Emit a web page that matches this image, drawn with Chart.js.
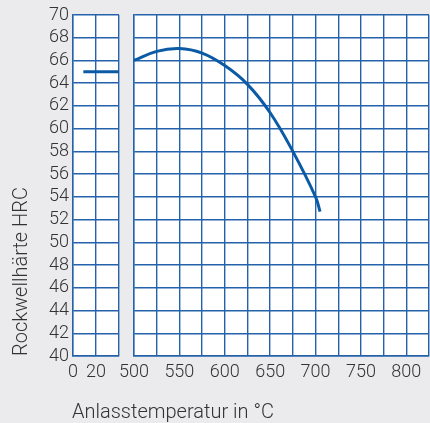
<!DOCTYPE html>
<html>
<head>
<meta charset="utf-8">
<script src="https://cdn.jsdelivr.net/npm/chart.js@4"></script>
<style>
  body { margin: 0; background: #ebebed; }
  #wrap { position: relative; width: 430px; height: 423px; overflow: hidden; }
  #left { position: absolute; left: 0; top: 0; }
  #right { position: absolute; left: 113px; top: 0; }
  #xtitle { position: absolute; left: 72px; top: 399px; font-family: Roboto, 'Liberation Sans', sans-serif; font-weight: 300; font-size: 20px; color: #333333; white-space: nowrap; }
</style>
</head>
<body>
<div id="wrap">
  <canvas id="left" width="125" height="423"></canvas>
  <canvas id="right" width="322" height="423"></canvas>
  <div id="xtitle">Anlasstemperatur in °C</div>
</div>
<script>
// hardness after quenching (room temperature section)
let roomTemp = [9, 40];
let roomHrc = [65, 65];

// tempering curve
let temperTemp = [500, 525, 550, 575, 600, 625, 650, 675, 700, 705];
let temperHrc = [66, 66.8, 67.05, 66.65, 65.55, 63.9, 61.4, 58, 54, 52.7];

let yTitle = 'Rockwellhärte HRC';
let roomTicks = [0, 20];
let temperTicks = [500, 550, 600, 650, 700, 750, 800];

let gridBlue = '#2462ab';
let curveBlue = '#0b5aa5';
let textGrey = '#333333';
let tickFont = { family: "Roboto, 'Liberation Sans', sans-serif", size: 18, weight: 300 };
let titleFont = { family: "Roboto, 'Liberation Sans', sans-serif", size: 20, weight: 300 };

// white plotting field
let whiteArea = {
    id: 'whiteArea',
    beforeDraw(chart) {
        let a = chart.chartArea;
        let ctx = chart.ctx;
        ctx.save();
        ctx.fillStyle = '#ffffff';
        ctx.fillRect(a.left, a.top, a.right - a.left, a.bottom - a.top);
        ctx.restore();
    }
};

function gridOpts() {
    return { color: gridBlue, lineWidth: 1.4, drawTicks: false };
}

let yCommon = {
    type: 'linear', min: 40, max: 70,
    grid: gridOpts(),
    border: { color: gridBlue, width: 1.4 }
};

new Chart(document.getElementById('left'), {
    type: 'line',
    data: {
        datasets: [{
            data: roomTemp.map((t, i) => ({ x: t, y: roomHrc[i] })),
            borderColor: curveBlue, borderWidth: 3, pointRadius: 0
        }]
    },
    options: {
        responsive: false, animation: false,
        layout: { padding: { top: 15, right: 6, left: 0, bottom: 0 } },
        plugins: { legend: { display: false }, tooltip: { enabled: false } },
        scales: {
            x: {
                type: 'linear', min: 0, max: 40,
                grid: gridOpts(),
                border: { color: gridBlue, width: 1.4 },
                afterBuildTicks: s => { s.ticks = [0, 20, 40].map(v => ({ value: v })); },
                ticks: {
                    autoSkip: false, maxRotation: 0, padding: 6,
                    color: textGrey, font: tickFont,
                    callback: v => roomTicks.includes(v) ? v : ''
                },
                afterFit: s => { s.height = 67; }
            },
            y: Object.assign({}, yCommon, {
                ticks: { stepSize: 2, autoSkip: false, padding: 4, color: textGrey, font: tickFont },
                title: {
                    display: true, text: yTitle, align: 'start',
                    color: textGrey, font: titleFont, padding: { top: 10, bottom: 0 }
                },
                afterFit: s => { s.width = 73; }
            })
        }
    },
    plugins: [whiteArea]
});

new Chart(document.getElementById('right'), {
    type: 'line',
    data: {
        datasets: [{
            data: temperTemp.map((t, i) => ({ x: t, y: temperHrc[i] })),
            borderColor: curveBlue, borderWidth: 3, pointRadius: 0,
            tension: 0.4
        }]
    },
    options: {
        responsive: false, animation: false,
        layout: { padding: { top: 15, right: 1, left: 0, bottom: 0 } },
        plugins: { legend: { display: false }, tooltip: { enabled: false } },
        scales: {
            x: {
                type: 'linear', min: 500, max: 825,
                grid: gridOpts(),
                border: { color: gridBlue, width: 1.4 },
                ticks: {
                    stepSize: 25, autoSkip: false, maxRotation: 0, padding: 6,
                    color: textGrey, font: tickFont,
                    callback: v => temperTicks.includes(v) ? v : ''
                },
                afterFit: s => { s.height = 67; }
            },
            y: Object.assign({}, yCommon, {
                ticks: { stepSize: 2, autoSkip: false, display: false },
                afterFit: s => { s.width = 0; }
            })
        }
    },
    plugins: [whiteArea]
});
</script>
</body>
</html>
